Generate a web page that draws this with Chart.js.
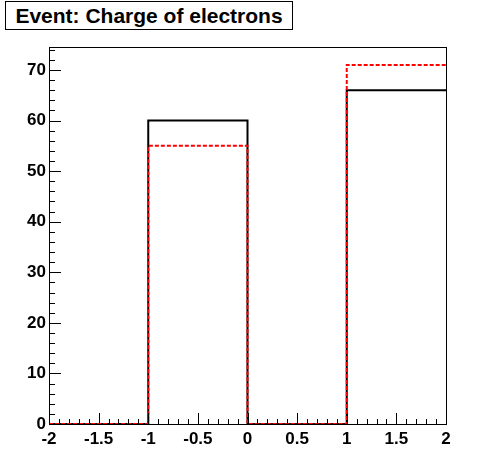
<!DOCTYPE html>
<html>
<head>
<meta charset="utf-8">
<script src="https://cdn.jsdelivr.net/npm/chart.js@4.4.1/dist/chart.umd.min.js"></script>
<style>
  body { margin: 0; background: #fff; }
  #wrap { position: relative; width: 496px; height: 472px; }
  #title {
    position: absolute; left: 5px; top: 1px; width: 286px; height: 27px;
    border: 1px solid #000; background: #fff;
    font: bold 21px "Liberation Sans", Arial, sans-serif; line-height: 28px;
    text-align: center; color: #000; z-index: 2;
  }
</style>
</head>
<body>
<div id="wrap">
  <div id="title">Event: Charge of electrons</div>
  <canvas id="histo" width="496" height="472"></canvas>
</div>
<script>
// bin edges and counts for the two histograms
const binEdges = [-2, -1, 0, 1, 2];
const countsBlack = [0, 60, 0, 66];
const countsRed = [0, 55, 0, 71];
const xTicks = [-2, -1.5, -1, -0.5, 0, 0.5, 1, 1.5, 2];
const yTicks = [0, 10, 20, 30, 40, 50, 60, 70];
const yMax = 74.55;

// turn bins into stepped points (value of bin i ends at edge i+1)
function stepPoints(counts) {
    const pts = [{ x: binEdges[0], y: counts[0] }];
    for (let i = 0; i < counts.length; i++) {
        pts.push({ x: binEdges[i + 1], y: counts[i] });
        if (i + 1 < counts.length) pts.push({ x: binEdges[i + 1], y: counts[i + 1] });
    }
    return pts;
}

// frame plus ROOT style inside ticks
const framePlugin = {
    id: 'frame',
    afterDraw(chart) {
        const ctx = chart.ctx;
        const a = chart.chartArea;
        const xs = chart.scales.x, ys = chart.scales.y;
        ctx.save();
        ctx.strokeStyle = '#000';
        ctx.lineWidth = 1;
        ctx.beginPath();
        // x ticks, major every 0.5, minor every 0.1
        for (let i = 0; i <= 40; i++) {
            const v = -2 + i * 0.1;
            const px = Math.round(xs.getPixelForValue(v)) + 0.5;
            const len = (i % 5 === 0) ? 11 : 5;
            ctx.moveTo(px, a.bottom);
            ctx.lineTo(px, a.bottom - len);
        }
        // y ticks, major every 10, minor every 2
        for (let v = 0; v <= yMax; v += 2) {
            const py = Math.round(ys.getPixelForValue(v)) + 0.5;
            const len = (v % 10 === 0) ? 12 : 6;
            ctx.moveTo(a.left, py);
            ctx.lineTo(a.left + len, py);
        }
        ctx.stroke();
        ctx.strokeRect(Math.round(a.left) + 0.5, Math.round(a.top) + 0.5,
            Math.round(a.right - a.left), Math.round(a.bottom - a.top));
        ctx.restore();
    }
};

const tickFont = { family: '"Liberation Sans", Arial, sans-serif', size: 17, weight: 'bold' };

new Chart(document.getElementById('histo').getContext('2d'), {
    type: 'line',
    data: {
        datasets: [{
            data: stepPoints(countsBlack),
            borderColor: '#000000',
            borderWidth: 2,
            pointRadius: 0,
            fill: false,
            order: 2
        }, {
            data: stepPoints(countsRed),
            borderColor: '#ff0000',
            borderWidth: 2,
            borderDash: [4, 2],
            pointRadius: 0,
            fill: false,
            order: 1
        }]
    },
    options: {
        responsive: false,
        animation: false,
        events: [],
        layout: { padding: { top: 47, right: 50, left: 0, bottom: 0 } },
        plugins: { legend: { display: false }, tooltip: { enabled: false } },
        scales: {
            x: {
                type: 'linear', min: -2, max: 2,
                afterBuildTicks: s => { s.ticks = xTicks.map(v => ({ value: v })); },
                afterFit: s => { s.height = 48; },
                grid: { display: false, drawTicks: false },
                border: { display: false },
                ticks: { color: '#000', font: tickFont, padding: 5, maxRotation: 0, autoSkip: false,
                         callback: v => String(v) }
            },
            y: {
                type: 'linear', min: 0, max: yMax,
                afterBuildTicks: s => { s.ticks = yTicks.map(v => ({ value: v })); },
                afterFit: s => { s.width = 49; },
                grid: { display: false, drawTicks: false },
                border: { display: false },
                ticks: { color: '#000', font: tickFont, padding: 3, callback: v => String(v) }
            }
        }
    },
    plugins: [framePlugin]
});
</script>
</body>
</html>
